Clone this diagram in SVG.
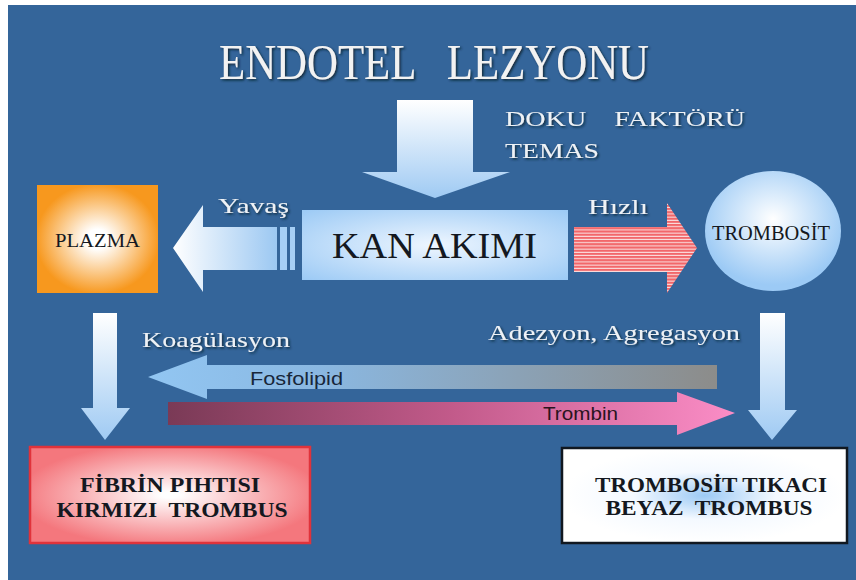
<svg xmlns="http://www.w3.org/2000/svg" width="856" height="580" viewBox="0 0 856 580">
<style>
.serif{font-family:"Liberation Serif","Times New Roman",serif}
.sans{font-family:"Liberation Sans",Arial,sans-serif}
.lbl{fill:#eef2f6;filter:url(#sh)}
.dark{fill:#141820}
</style>
<defs>
<filter id="sh" x="-10%" y="-20%" width="130%" height="150%"><feDropShadow dx="1.5" dy="1.5" stdDeviation="0.8" flood-color="#102030" flood-opacity="0.9"/></filter>
<linearGradient id="gDown" x1="0" y1="0" x2="0" y2="1"><stop offset="0" stop-color="#ffffff"/><stop offset="1" stop-color="#9fcaf3"/></linearGradient>
<linearGradient id="gLeft" x1="0" y1="0" x2="1" y2="0"><stop offset="0" stop-color="#ffffff"/><stop offset="1" stop-color="#9cc8f2"/></linearGradient>
<radialGradient id="gPlaz" cx="0.5" cy="0.5" r="0.6"><stop offset="0.15" stop-color="#ffffff"/><stop offset="0.85" stop-color="#f7981e"/></radialGradient>
<radialGradient id="gKan" cx="0.5" cy="0.5" r="0.7"><stop offset="0" stop-color="#eef6ff"/><stop offset="1" stop-color="#9ccaf5"/></radialGradient>
<radialGradient id="gTrom" cx="0.5" cy="0.4" r="0.55"><stop offset="0" stop-color="#ffffff"/><stop offset="1" stop-color="#9ccaf5"/></radialGradient>
<radialGradient id="gFib" cx="0.5" cy="0.5" r="0.6"><stop offset="0.05" stop-color="#ffffff"/><stop offset="0.9" stop-color="#f4777d"/></radialGradient>
<radialGradient id="gTik" cx="0.5" cy="0.5" r="0.5"><stop offset="0" stop-color="#9ccaf5"/><stop offset="0.5" stop-color="#f4f9ff"/><stop offset="1" stop-color="#ffffff"/></radialGradient>
<linearGradient id="gFos" x1="148" y1="0" x2="717" y2="0" gradientUnits="userSpaceOnUse"><stop offset="0" stop-color="#92c6f2"/><stop offset="0.3" stop-color="#8ab8e2"/><stop offset="1" stop-color="#8c8c8a"/></linearGradient>
<linearGradient id="gTrb" x1="168" y1="0" x2="735" y2="0" gradientUnits="userSpaceOnUse"><stop offset="0" stop-color="#7a3a56"/><stop offset="0.5" stop-color="#c25a8a"/><stop offset="1" stop-color="#fb8dc6"/></linearGradient>
<pattern id="pStripe" x="0" y="0" width="10" height="3.2" patternUnits="userSpaceOnUse"><rect width="10" height="3.2" fill="#fbe6e6"/><rect width="10" height="2.2" fill="#f2676a"/></pattern>
</defs>
<rect x="0" y="0" width="856" height="580" fill="#ffffff"/>
<rect x="8" y="5" width="848" height="575" fill="#34659a"/>

<g id="title">
<text class="serif" x="434" y="79" font-size="50" text-anchor="middle" fill="#f2f2f2" filter="url(#sh)" textLength="430" lengthAdjust="spacingAndGlyphs" xml:space="preserve">ENDOTEL   LEZYONU</text>
</g>

<g id="connectors">
<path id="arrow-top" d="M397,100 H473 V172 H510 L435,198 L362,172 H397 Z" fill="url(#gDown)"/>
<g id="arrow-yavas">
<path d="M173,248 L203,205 V227 H277 V270 H203 V292 Z" fill="url(#gLeft)"/>
<rect x="280" y="227" width="7" height="43" fill="#a6cff5"/>
<rect x="290" y="227" width="5" height="43" fill="#a6cff5"/>
</g>
<path id="arrow-hizli" d="M574,227 H667 V203 L697,248 L667,293 V272 H574 Z" fill="url(#pStripe)"/>
<path id="arrow-left-down" d="M93,313 H117 V408 H130 L105,440 L81,408 H93 Z" fill="url(#gDown)"/>
<path id="arrow-right-down" d="M760,313 H785 V410 H797 L772,440 L748,410 H760 Z" fill="url(#gDown)"/>
<path id="arrow-fosfolipid" d="M148,377 L207,355 V365 H717 V389 H207 V399 Z" fill="url(#gFos)"/>
<path id="arrow-trombin" d="M168,402 H677 V392 L735,413 L677,435 V425 H168 Z" fill="url(#gTrb)"/>
</g>

<g id="labels">
<text class="serif lbl" x="505" y="126" font-size="22" textLength="240" lengthAdjust="spacingAndGlyphs" xml:space="preserve">DOKU    FAKTÖRÜ</text>
<text class="serif lbl" x="505" y="158" font-size="22" textLength="94" lengthAdjust="spacingAndGlyphs">TEMAS</text>
<text class="serif lbl" x="218" y="213" font-size="22" textLength="71" lengthAdjust="spacingAndGlyphs">Yavaş</text>
<text class="serif lbl" x="588" y="214" font-size="22" textLength="60" lengthAdjust="spacingAndGlyphs">Hızlı</text>
<text class="serif lbl" x="142" y="347" font-size="22" textLength="148" lengthAdjust="spacingAndGlyphs">Koagülasyon</text>
<text class="serif lbl" x="488" y="340" font-size="21" textLength="252" lengthAdjust="spacingAndGlyphs">Adezyon, Agregasyon</text>
<text class="sans" x="250" y="385" font-size="18" fill="#17263a" textLength="93" lengthAdjust="spacingAndGlyphs">Fosfolipid</text>
<text class="sans" x="543" y="420" font-size="18" fill="#2a1420" textLength="75" lengthAdjust="spacingAndGlyphs">Trombin</text>
</g>

<g id="plazma">
<rect x="37" y="185" width="121" height="108" fill="url(#gPlaz)"/>
<text class="serif dark" x="97.5" y="247" font-size="19" text-anchor="middle" textLength="85" lengthAdjust="spacingAndGlyphs">PLAZMA</text>
</g>

<g id="kan-akimi">
<rect x="302" y="210" width="266" height="70" fill="url(#gKan)"/>
<text class="serif dark" x="434.5" y="258" font-size="36" text-anchor="middle" textLength="205" lengthAdjust="spacingAndGlyphs">KAN AKIMI</text>
</g>

<g id="trombosit">
<ellipse cx="773" cy="231" rx="68" ry="60" fill="url(#gTrom)"/>
<text class="serif dark" x="771" y="240" font-size="20" text-anchor="middle" textLength="118" lengthAdjust="spacingAndGlyphs">TROMBOSİT</text>
</g>

<g id="fibrin">
<rect x="30" y="447" width="280" height="96" fill="url(#gFib)" stroke="#e0333b" stroke-width="2.5"/>
<text class="serif dark" x="170" y="492" font-size="20" font-weight="bold" text-anchor="middle" textLength="180" lengthAdjust="spacingAndGlyphs">FİBRİN PIHTISI</text>
<text class="serif dark" x="172" y="517" font-size="20" font-weight="bold" text-anchor="middle" textLength="231" lengthAdjust="spacingAndGlyphs" xml:space="preserve">KIRMIZI  TROMBUS</text>
</g>

<g id="tikaci">
<rect x="562" y="448" width="285" height="95" fill="url(#gTik)" stroke="#111820" stroke-width="2.5"/>
<text class="serif dark" x="711" y="492" font-size="20" font-weight="bold" text-anchor="middle" textLength="232" lengthAdjust="spacingAndGlyphs">TROMBOSİT TIKACI</text>
<text class="serif dark" x="709" y="515" font-size="20" font-weight="bold" text-anchor="middle" textLength="207" lengthAdjust="spacingAndGlyphs" xml:space="preserve">BEYAZ  TROMBUS</text>
</g>
</svg>
